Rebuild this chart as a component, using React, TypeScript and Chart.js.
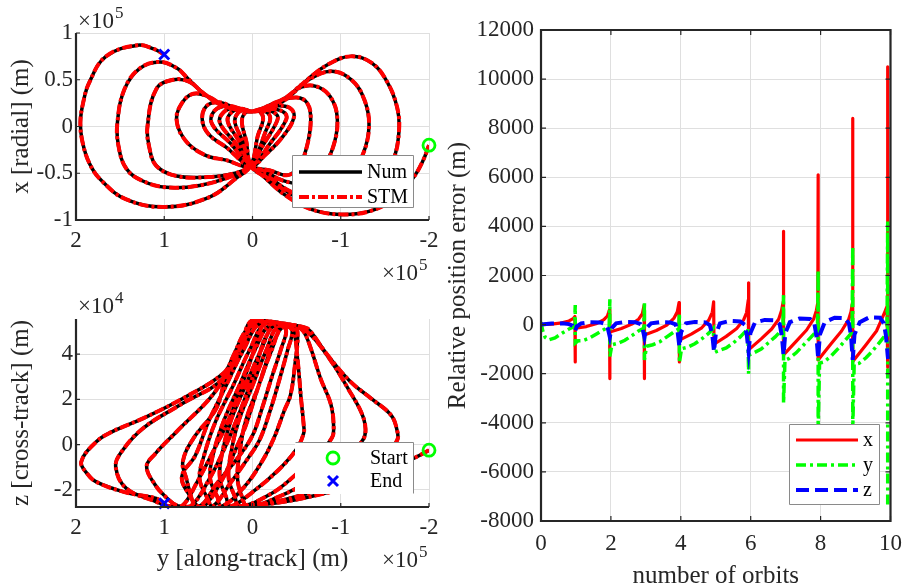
import React, { useEffect, useRef } from "react";
import { Chart, registerables } from "chart.js";

Chart.register(...registerables);

const SERIF = '"Liberation Serif", "Times New Roman", Times, serif';
const INK = "#262626";
const GRID = "#dfdfdf";
const RED = "#ff0000";
const GREEN = "#00ff00";
const BLUE = "#0000ff";

type P = [number, number];

// ---------- In-plane motion: along-track y (x1e5 m) vs radial x (x1e5 m) ----------
const ipStart: P[] = [[-2.0, -0.2], [-1.93, -0.37], [-1.82, -0.55], [-1.62, -0.76], [-1.35, -0.9], [-1.0, -0.94], [-0.65, -0.88], [-0.35, -0.72], [-0.12, -0.53]];
const ipLeft10: P[] = [[0.02, -0.42], [0.07, -0.16], [0.12, 0.05], [0.08, 0.15]];
const ipRight1: P[] = [[0.0, 0.16], [-0.33, 0.26], [-0.62, 0.5], [-0.85, 0.66], [-1.11, 0.75], [-1.35, 0.68], [-1.53, 0.47], [-1.64, 0.2], [-1.66, -0.05], [-1.6, -0.35], [-1.45, -0.62], [-1.22, -0.8], [-0.96, -0.85], [-0.6, -0.8], [-0.3, -0.64], [-0.1, -0.5]];
const ipLeft9: P[] = [[0.02, -0.42], [0.11, -0.16], [0.2, 0.05], [0.16, 0.15], [0.08, 0.18]];
const ipRight2: P[] = [[0.0, 0.16], [-0.36, 0.3], [-0.62, 0.49], [-0.89, 0.59], [-1.12, 0.5], [-1.27, 0.28], [-1.32, 0.0], [-1.25, -0.3], [-1.08, -0.57], [-0.8, -0.74], [-0.47, -0.71], [-0.2, -0.55]];
const ipLeft8: P[] = [[0.02, -0.42], [0.15, -0.16], [0.28, 0.05], [0.24, 0.15], [0.12, 0.19]];
const ipRight3: P[] = [[0.0, 0.16], [-0.36, 0.3], [-0.55, 0.42], [-0.72, 0.43], [-0.88, 0.32], [-0.96, 0.1], [-0.92, -0.2], [-0.78, -0.46], [-0.6, -0.6], [-0.35, -0.58], [-0.12, -0.47]];
const ipLeft7: P[] = [[0.02, -0.42], [0.2, -0.17], [0.37, 0.04], [0.33, 0.15], [0.2, 0.2]];
const ipRight4: P[] = [[0.0, 0.16], [-0.3, 0.27], [-0.5, 0.31], [-0.62, 0.25], [-0.66, 0.08], [-0.62, -0.2], [-0.53, -0.42], [-0.4, -0.52], [-0.2, -0.47]];
const ipLeft6: P[] = [[0.02, -0.42], [0.25, -0.18], [0.46, 0.03], [0.43, 0.17], [0.28, 0.22], [0.1, 0.18]];
const ipRight5: P[] = [[0.0, 0.16], [-0.25, 0.22], [-0.42, 0.2], [-0.47, 0.1], [-0.35, -0.1], [-0.15, -0.3]];
const ipLeft5: P[] = [[0.02, -0.42], [0.3, -0.22], [0.5, -0.08], [0.57, 0.08], [0.52, 0.22], [0.38, 0.26], [0.2, 0.2]];
const ipRight6: P[] = [[0.0, 0.16], [-0.2, 0.19], [-0.36, 0.15], [-0.38, 0.07], [-0.2, -0.18]];
const ipLeft4: P[] = [[0.02, -0.42], [0.3, -0.36], [0.55, -0.3], [0.76, -0.15], [0.86, 0.07], [0.8, 0.25], [0.67, 0.35], [0.5, 0.32], [0.3, 0.21]];
const ipRight7: P[] = [[0.0, 0.16], [-0.15, 0.18], [-0.28, 0.12], [-0.27, 0.04], [-0.12, -0.2]];
const ipLeft3: P[] = [[0.02, -0.42], [0.2, -0.5], [0.5, -0.54], [0.86, -0.53], [1.09, -0.42], [1.17, -0.22], [1.19, 0.0], [1.09, 0.4], [0.9, 0.5], [0.72, 0.48], [0.56, 0.36], [0.33, 0.22]];
const ipRight8: P[] = [[0.0, 0.16], [-0.12, 0.17], [-0.2, 0.1], [-0.15, -0.05]];
const ipLeft2: P[] = [[0.02, -0.42], [0.2, -0.52], [0.6, -0.63], [0.98, -0.65], [1.25, -0.58], [1.43, -0.45], [1.52, -0.2], [1.53, 0.05], [1.45, 0.4], [1.28, 0.62], [1.05, 0.69], [0.85, 0.62], [0.75, 0.53], [0.56, 0.36], [0.33, 0.22]];
const ipRight9: P[] = [[0.0, 0.16], [-0.08, 0.16], [-0.12, 0.08], [-0.06, -0.1]];
const ipLeft1: P[] = [[0.02, -0.42], [0.18, -0.55], [0.5, -0.76], [0.98, -0.86], [1.43, -0.78], [1.72, -0.57], [1.85, -0.39], [1.93, -0.15], [1.95, 0.05], [1.92, 0.25], [1.85, 0.47], [1.66, 0.75], [1.3, 0.87], [1.12, 0.83], [1.0, 0.77]];

const inPlanePath: P[] = [
  ipStart, ipLeft10, ipRight1, ipLeft9, ipRight2, ipLeft8, ipRight3, ipLeft7, ipRight4, ipLeft6,
  ipRight5, ipLeft5, ipRight6, ipLeft4, ipRight7, ipLeft3, ipRight8, ipLeft2, ipRight9, ipLeft1,
].flat();

// ---------- Cross-track motion: along-track y (x1e5 m) vs cross-track z (x1e4 m) ----------
const ctStart: P[] = [[-2.0, -0.25], [-1.83, -0.6], [-1.5, -1.2], [-1.1, -1.85], [-0.6, -2.35], [-0.2, -2.62]];
const ctRight1: P[] = [[0.1, -2.72], [-0.35, -2.45], [-0.85, -1.85], [-1.25, -1.1], [-1.52, -0.4], [-1.64, 0.2], [-1.64, 0.6], [-1.57, 1.3], [-1.34, 2.05], [-1.11, 2.78], [-0.85, 3.96], [-0.66, 4.99]];
const ctLeft10: P[] = [[-0.6, 5.17], [-0.35, 5.22], [-0.22, 4.2], [-0.07, 2.6], [0.08, 1.0], [0.15, -0.5], [0.17, -1.5], [0.12, -2.3]];
const ctRight2: P[] = [[0.05, -2.75], [-0.3, -2.3], [-0.7, -1.5], [-1.05, -0.6], [-1.25, 0.2], [-1.28, 0.72], [-1.23, 1.45], [-1.08, 2.49], [-0.92, 3.52], [-0.73, 4.55], [-0.62, 4.99]];
const ctLeft9: P[] = [[-0.55, 5.2], [-0.3, 5.25], [-0.16, 4.2], [0.0, 2.6], [0.16, 1.0], [0.25, -0.5], [0.27, -1.5], [0.2, -2.3]];
const ctRight3: P[] = [[0.15, -2.73], [-0.2, -2.2], [-0.5, -1.3], [-0.75, -0.4], [-0.9, 0.3], [-0.92, 0.72], [-0.89, 1.75], [-0.77, 2.93], [-0.66, 4.26], [-0.58, 4.99]];
const ctLeft8: P[] = [[-0.5, 5.22], [-0.25, 5.28], [-0.1, 4.2], [0.08, 2.6], [0.25, 1.0], [0.35, -0.5], [0.37, -1.5], [0.3, -2.3]];
const ctRight4: P[] = [[0.25, -2.73], [0.0, -2.1], [-0.3, -1.1], [-0.5, -0.2], [-0.58, 0.5], [-0.58, 0.86], [-0.55, 2.04], [-0.51, 3.81], [-0.47, 4.99]];
const ctLeft7: P[] = [[-0.42, 5.25], [-0.2, 5.3], [-0.03, 4.2], [0.15, 2.6], [0.33, 1.0], [0.45, -0.5], [0.48, -1.5], [0.4, -2.3]];
const ctRight5: P[] = [[0.35, -2.73], [0.1, -1.9], [-0.1, -0.8], [-0.24, 0.26], [-0.36, 1.5], [-0.43, 2.18], [-0.48, 3.5], [-0.51, 4.98]];
const ctLeft6: P[] = [[-0.45, 5.2], [-0.15, 5.35], [0.03, 4.2], [0.22, 2.6], [0.42, 1.0], [0.55, -0.5], [0.6, -1.5], [0.52, -2.3]];
const ctRight6: P[] = [[0.45, -2.72], [0.25, -1.7], [0.05, -0.6], [-0.08, 0.2], [-0.2, 1.5], [-0.3, 2.8], [-0.4, 4.2], [-0.45, 5.0]];
const ctLeft5: P[] = [[-0.4, 5.22], [-0.1, 5.4], [0.1, 4.2], [0.3, 2.6], [0.5, 1.0], [0.65, -0.5], [0.8, -1.4], [0.72, -2.2]];
const ctRight7: P[] = [[0.6, -2.72], [0.4, -1.7], [0.15, -0.5], [0.0, 0.4], [-0.1, 1.5], [-0.22, 3.0], [-0.33, 4.3], [-0.38, 5.05]];
const ctLeft4: P[] = [[-0.3, 5.3], [-0.05, 5.45], [0.12, 4.4], [0.3, 3.0], [0.41, 1.6], [0.67, 0.27], [0.79, -0.76], [0.75, -1.5], [0.71, -2.09], [0.65, -2.7]];
const ctRight8: P[] = [[0.55, -2.74], [0.35, -1.6], [0.2, -0.3], [0.08, 0.8], [-0.02, 2.0], [-0.12, 3.2], [-0.22, 4.4], [-0.3, 5.1]];
const ctLeft3: P[] = [[-0.25, 5.35], [0.0, 5.5], [0.12, 4.6], [0.25, 3.5], [0.45, 2.2], [0.86, 0.57], [1.1, -0.4], [1.2, -0.98], [1.1, -1.8], [1.0, -2.25], [0.85, -2.7]];
const ctRight9: P[] = [[0.7, -2.72], [0.5, -1.6], [0.32, -0.2], [0.2, 0.9], [0.08, 2.1], [-0.03, 3.3], [-0.12, 4.5], [-0.2, 5.2]];
const ctLeft2: P[] = [[-0.15, 5.4], [-0.02, 5.5], [0.1, 4.6], [0.33, 2.93], [0.8, 1.8], [1.24, 0.72], [1.48, -0.3], [1.55, -0.98], [1.43, -1.94], [1.09, -2.53], [0.95, -2.72]];
const ctRight10: P[] = [[0.8, -2.72], [0.62, -1.6], [0.42, -0.1], [0.28, 1.0], [0.16, 2.2], [0.05, 3.4], [-0.05, 4.6], [-0.1, 5.35]];
const ctLeft1: P[] = [[-0.03, 5.5], [0.1, 4.9], [0.22, 3.9], [0.33, 3.15], [0.79, 2.04], [1.24, 1.16], [1.6, 0.55], [1.77, 0.12], [1.94, -0.76], [1.87, -1.3], [1.77, -1.65], [1.45, -2.1], [1.09, -2.38], [1.0, -2.6]];

const crossPath: P[] = [
  ctStart, ctRight1, ctLeft10, ctRight2, ctLeft9, ctRight3, ctLeft8, ctRight4, ctLeft7, ctRight5, ctLeft6,
  ctRight6, ctLeft5, ctRight7, ctLeft4, ctRight8, ctLeft3, ctRight9, ctLeft2, ctRight10, ctLeft1,
].flat();

// ---------- Relative position error (m) vs number of orbits ----------
const errX: P[] = [
  [0, 0], [0.3, 20], [0.6, 70], [0.8, 150], [0.92, 240], [0.97, 330],
  [0.98, -1520], [0.98, -150], [1.3, -80], [1.6, 50], [1.8, 200], [1.9, 350], [1.96, 600],
  [1.97, -2200], [1.97, -300], [2.3, -160], [2.6, 20], [2.8, 230], [2.9, 450], [2.95, 780],
  [2.96, -2200], [2.96, -420], [3.3, -240], [3.6, -20], [3.8, 250], [3.9, 520], [3.95, 900],
  [3.96, -1520], [3.96, -630], [4.3, -390], [4.6, -130], [4.8, 180], [4.9, 500], [4.94, 930],
  [4.95, -800], [5.3, -480], [5.6, -160], [5.8, 200], [5.88, 480], [5.93, 1000],
  [5.94, 1700], [5.94, -1030], [6.3, -580], [6.6, -180], [6.8, 220], [6.88, 560], [6.93, 930],
  [6.94, 3800], [6.94, -1230], [7.3, -680], [7.6, -220], [7.8, 220], [7.88, 580], [7.92, 900],
  [7.93, 6100], [7.93, -1440], [8.3, -780], [8.6, -260], [8.8, 200], [8.87, 520], [8.91, 880],
  [8.92, 8400], [8.92, -1500], [9.3, -820], [9.6, -260], [9.75, 220], [9.85, 560], [9.9, 740],
  [9.92, 10500], [9.92, -1740],
];
const errY: P[] = [
  [0, 100], [0.05, -250], [0.12, -520], [0.22, -620], [0.4, -540], [0.6, -350], [0.8, -180], [0.96, -80],
  [0.98, 800], [0.98, -750], [1.06, -660], [1.2, -650], [1.4, -540], [1.6, -370], [1.8, -200], [1.95, -100],
  [1.97, 1030], [1.97, -1300], [2.03, -820], [2.2, -760], [2.4, -640], [2.6, -450], [2.8, -250], [2.94, -150],
  [2.96, 930], [2.96, -1440], [3.02, -880], [3.2, -820], [3.4, -700], [3.6, -500], [3.8, -300], [3.94, -180],
  [3.96, 470], [3.96, -1560], [4.02, -980], [4.2, -920], [4.4, -780], [4.6, -580], [4.8, -350], [4.93, -150],
  [4.95, -1150], [5.05, -1080], [5.3, -950], [5.5, -750], [5.7, -500], [5.85, -280], [5.92, -150],
  [5.94, -2000], [5.94, -1250], [6.05, -1180], [6.3, -1000], [6.5, -750], [6.7, -500], [6.85, -280], [6.92, -180],
  [6.94, 1200], [6.94, -3200], [6.98, -1450], [7.1, -1380], [7.3, -1150], [7.5, -850], [7.7, -550], [7.85, -320], [7.91, -220],
  [7.93, 2200], [7.93, -4300], [7.97, -1570], [8.1, -1520], [8.3, -1280], [8.5, -980], [8.7, -650], [8.85, -400], [8.9, -280],
  [8.92, 3200], [8.92, -4300], [8.96, -1620], [9.1, -1580], [9.3, -1350], [9.5, -1050], [9.7, -700], [9.85, -430], [9.9, -330],
  [9.92, 4200], [9.92, -7350],
];
const errZ: P[] = [
  [0, 0], [0.3, 40], [0.6, 50], [0.8, 20], [0.9, -40], [0.96, -200], [0.98, -250], [1.02, -80],
  [1.15, 50], [1.4, 100], [1.7, 90], [1.85, 20], [1.92, -200], [1.97, -510], [2.02, -150],
  [2.15, 50], [2.4, 110], [2.7, 100], [2.85, 20], [2.91, -200], [2.96, -520], [3.01, -150],
  [3.15, 50], [3.4, 100], [3.7, 90], [3.85, 10], [3.91, -300], [3.96, -900], [4.01, -300],
  [4.15, 50], [4.4, 110], [4.7, 90], [4.83, -20], [4.9, -400], [4.95, -1100], [5.0, -400],
  [5.12, 50], [5.4, 150], [5.7, 130], [5.83, 0], [5.89, -450], [5.94, -1100], [5.99, -350],
  [6.12, 80], [6.4, 190], [6.7, 170], [6.83, 20], [6.89, -450], [6.94, -1240], [6.99, -350],
  [7.12, 100], [7.4, 250], [7.7, 230], [7.82, 50], [7.88, -450], [7.93, -1370], [7.98, -400],
  [8.12, 100], [8.4, 280], [8.7, 260], [8.81, 50], [8.87, -450], [8.92, -1440], [8.97, -400],
  [9.12, 100], [9.4, 300], [9.7, 280], [9.81, 50], [9.87, -450], [9.93, -1400],
];

// ---------- Tick values ----------
const alongTicks = [2, 1, 0, -1, -2];
const radialTicks = [-1, -0.5, 0, 0.5, 1];
const crossTicks = [-2, 0, 2, 4];
const orbitTicks = [0, 2, 4, 6, 8, 10];
const errTicks = [-8000, -6000, -4000, -2000, 0, 2000, 4000, 6000, 8000, 10000, 12000];

const pts = (a: P[]) => a.map(([x, y]) => ({ x, y }));

type LegendRow = { label: string; kind: "line" | "circle" | "cross"; color: string; width: number; dash?: number[] };
type LegendCfg = {
  x: number; y: number; w: number; h: number;
  edges: string;
  rowY: number[];
  sampleX: [number, number];
  textX: number;
  rows: LegendRow[];
};
type FrameCfg = {
  box: boolean;
  tick: number;
  exps: { x: number; y: number; exp: string }[];
  legend: LegendCfg;
};

function makeFrame(cfg: FrameCfg) {
  return {
    id: "frame",
    afterDatasetsDraw(chart: any) {
      const { ctx, chartArea: a } = chart;
      const sx = chart.scales.x;
      const sy = chart.scales.y;
      ctx.save();
      ctx.strokeStyle = INK;
      ctx.lineWidth = 1.2;
      ctx.beginPath();
      sx.ticks.forEach((t: any) => {
        const p = sx.getPixelForValue(t.value);
        ctx.moveTo(p, a.bottom);
        ctx.lineTo(p, a.bottom - cfg.tick);
        if (cfg.box) {
          ctx.moveTo(p, a.top);
          ctx.lineTo(p, a.top + cfg.tick);
        }
      });
      sy.ticks.forEach((t: any) => {
        const p = sy.getPixelForValue(t.value);
        ctx.moveTo(a.left, p);
        ctx.lineTo(a.left + cfg.tick, p);
        if (cfg.box) {
          ctx.moveTo(a.right, p);
          ctx.lineTo(a.right - cfg.tick, p);
        }
      });
      ctx.stroke();
      ctx.lineWidth = 2.2;
      ctx.beginPath();
      if (cfg.box) {
        ctx.rect(a.left, a.top, a.right - a.left, a.bottom - a.top);
      } else {
        ctx.moveTo(a.left, a.top);
        ctx.lineTo(a.left, a.bottom);
        ctx.lineTo(a.right, a.bottom);
      }
      ctx.stroke();
      ctx.restore();
    },
    afterDraw(chart: any) {
      const ctx: CanvasRenderingContext2D = chart.ctx;
      ctx.save();
      // axis multipliers
      ctx.fillStyle = INK;
      ctx.textAlign = "left";
      ctx.textBaseline = "alphabetic";
      cfg.exps.forEach((e) => {
        ctx.font = `23px ${SERIF}`;
        ctx.fillText("\u00d710", e.x, e.y);
        const w = ctx.measureText("\u00d710").width;
        ctx.font = `17px ${SERIF}`;
        ctx.fillText(e.exp, e.x + w + 1, e.y - 10);
      });
      // legend
      const L = cfg.legend;
      ctx.fillStyle = "#ffffff";
      ctx.fillRect(L.x, L.y, L.w, L.h);
      ctx.strokeStyle = "#8a8a8a";
      ctx.lineWidth = 1;
      ctx.beginPath();
      const x0 = L.x + 0.5, y0 = L.y + 0.5, x1 = L.x + L.w - 0.5, y1 = L.y + L.h - 0.5;
      if (L.edges.includes("t")) { ctx.moveTo(x0, y0); ctx.lineTo(x1, y0); }
      if (L.edges.includes("r")) { ctx.moveTo(x1, y0); ctx.lineTo(x1, y1); }
      if (L.edges.includes("b")) { ctx.moveTo(x0, y1); ctx.lineTo(x1, y1); }
      if (L.edges.includes("l")) { ctx.moveTo(x0, y0); ctx.lineTo(x0, y1); }
      ctx.stroke();
      L.rows.forEach((r, i) => {
        const y = L.rowY[i];
        const [sx0, sx1] = L.sampleX;
        const cx = (sx0 + sx1) / 2;
        ctx.save();
        ctx.strokeStyle = r.color;
        ctx.lineWidth = r.width;
        ctx.setLineDash(r.dash ?? []);
        ctx.beginPath();
        if (r.kind === "line") {
          ctx.moveTo(sx0, y);
          ctx.lineTo(sx1, y);
        } else if (r.kind === "circle") {
          ctx.arc(cx, y, 6, 0, Math.PI * 2);
        } else {
          ctx.moveTo(cx - 5, y - 5);
          ctx.lineTo(cx + 5, y + 5);
          ctx.moveTo(cx + 5, y - 5);
          ctx.lineTo(cx - 5, y + 5);
        }
        ctx.stroke();
        ctx.restore();
        ctx.fillStyle = "#000000";
        ctx.font = `20px ${SERIF}`;
        ctx.textBaseline = "middle";
        ctx.textAlign = "left";
        ctx.fillText(r.label, L.textX, y + 1);
      });
      ctx.restore();
    },
  };
}

type AxisOpts = {
  min: number;
  max: number;
  reverse?: boolean;
  ticks: number[];
  pad: number;
  fit: (s: any) => void;
  title?: { text: string; padding: any };
};

function axis(o: AxisOpts) {
  return {
    type: "linear",
    min: o.min,
    max: o.max,
    reverse: !!o.reverse,
    afterBuildTicks: (s: any) => {
      s.ticks = o.ticks.map((v) => ({ value: v }));
    },
    afterFit: o.fit,
    grid: { color: GRID, lineWidth: 1, drawTicks: false },
    border: { display: false },
    ticks: {
      font: { family: SERIF, size: 23 },
      color: INK,
      padding: o.pad,
      autoSkip: false,
      maxRotation: 0,
      minRotation: 0,
      callback: (v: number) => String(v),
    },
    title: o.title
      ? { display: true, text: o.title.text, color: INK, font: { family: SERIF, size: 25, lineHeight: 1 }, padding: o.title.padding }
      : { display: false },
  };
}

const baseOptions = {
  responsive: false,
  animation: false,
  devicePixelRatio: 1,
  events: [] as any[],
  plugins: { legend: { display: false }, tooltip: { enabled: false } },
};

const STM_DASH = [10, 3, 3, 3];

function trajectorySets(path: P[]) {
  const first = path[0];
  const last = path[path.length - 1];
  return [
    { label: "STM", data: pts(path), showLine: true, borderColor: RED, borderWidth: 4, borderDash: STM_DASH, pointRadius: 0, tension: 0.4, fill: false, order: 1 },
    { label: "Num", data: pts(path), showLine: true, borderColor: "#000000", borderWidth: 3.5, pointRadius: 0, tension: 0.4, fill: false, order: 2 },
    { label: "Start", data: pts([first]), showLine: false, pointStyle: "circle", pointRadius: 6, pointBorderWidth: 2.8, pointBorderColor: GREEN, pointBackgroundColor: "rgba(0,0,0,0)", clip: false, order: 0 },
    { label: "End", data: pts([last]), showLine: false, pointStyle: "crossRot", pointRadius: 7, pointBorderWidth: 3, pointBorderColor: BLUE, pointBackgroundColor: BLUE, clip: false, order: 0 },
  ];
}

function inPlaneConfig(): any {
  return {
    type: "scatter",
    data: { datasets: trajectorySets(inPlanePath) },
    options: {
      ...baseOptions,
      layout: { padding: { left: 0, top: 33, right: 482, bottom: 326 } },
      scales: {
        x: axis({ min: -2, max: 2, reverse: true, ticks: alongTicks, pad: 7, fit: (s) => { s.height = 40; } }),
        y: axis({ min: -1, max: 1, ticks: radialTicks, pad: 3, fit: (s) => { s.width = 76; }, title: { text: "x [radial] (m)", padding: { top: 9, bottom: 0 } } }),
      },
    },
    plugins: [
      makeFrame({
        box: false,
        tick: 4,
        exps: [{ x: 78, y: 28, exp: "5" }, { x: 382, y: 280, exp: "5" }],
        legend: {
          x: 292, y: 155, w: 122, h: 53, edges: "trbl", rowY: [172, 197], sampleX: [299, 362], textX: 367,
          rows: [
            { label: "Num", kind: "line", color: "#000000", width: 3.5 },
            { label: "STM", kind: "line", color: RED, width: 4, dash: STM_DASH },
          ],
        },
      }),
    ],
  };
}

function crossConfig(): any {
  return {
    type: "scatter",
    data: { datasets: trajectorySets(crossPath) },
    options: {
      ...baseOptions,
      layout: { padding: { left: 0, top: 319, right: 482, bottom: 0 } },
      scales: {
        x: axis({ min: -2, max: 2, reverse: true, ticks: alongTicks, pad: 7, fit: (s) => { s.height = 79; }, title: { text: "y [along-track] (m)", padding: { top: 0, bottom: 14 } } }),
        y: axis({ min: -2.76, max: 5.55, ticks: crossTicks, pad: 3, fit: (s) => { s.width = 76; }, title: { text: "z [cross-track] (m)", padding: { top: 9, bottom: 0 } } }),
      },
    },
    plugins: [
      makeFrame({
        box: false,
        tick: 4,
        exps: [{ x: 78, y: 313, exp: "4" }, { x: 382, y: 567, exp: "5" }],
        legend: {
          x: 295, y: 442, w: 119, h: 52, edges: "tr", rowY: [458, 481], sampleX: [320, 346], textX: 370,
          rows: [
            { label: "Start", kind: "circle", color: GREEN, width: 2.8 },
            { label: "End", kind: "cross", color: BLUE, width: 3 },
          ],
        },
      }),
    ],
  };
}

const Y_DASH = [10, 4, 3, 4];
const Z_DASH = [13, 6];

function errorConfig(): any {
  return {
    type: "scatter",
    data: {
      datasets: [
        { label: "z", data: pts(errZ), showLine: true, borderColor: BLUE, borderWidth: 4, borderDash: Z_DASH, pointRadius: 0, tension: 0, fill: false, order: 1 },
        { label: "y", data: pts(errY), showLine: true, borderColor: GREEN, borderWidth: 3.5, borderDash: Y_DASH, pointRadius: 0, tension: 0, fill: false, order: 2 },
        { label: "x", data: pts(errX), showLine: true, borderColor: RED, borderWidth: 3.2, borderCapStyle: "round", borderJoinStyle: "round", pointRadius: 0, tension: 0, fill: false, order: 3 },
      ],
    },
    options: {
      ...baseOptions,
      layout: { padding: { left: 440, top: 30, right: 17, bottom: 0 } },
      scales: {
        x: axis({ min: 0, max: 10, ticks: orbitTicks, pad: 9, fit: (s) => { s.height = 65; }, title: { text: "number of orbits", padding: { top: 0, bottom: -3 } } }),
        y: axis({ min: -8000, max: 12000, ticks: errTicks, pad: 7, fit: (s) => { s.width = 101; }, title: { text: "Relative position error (m)", padding: { top: 6, bottom: 0 } } }),
      },
    },
    plugins: [
      makeFrame({
        box: true,
        tick: 5,
        exps: [],
        legend: {
          x: 789, y: 424, w: 91, h: 81, edges: "trbl", rowY: [440, 465, 490], sampleX: [796, 858], textX: 863,
          rows: [
            { label: "x", kind: "line", color: RED, width: 3.2 },
            { label: "y", kind: "line", color: GREEN, width: 3.5, dash: Y_DASH },
            { label: "z", kind: "line", color: BLUE, width: 4, dash: Z_DASH },
          ],
        },
      }),
    ],
  };
}

const canvasStyle: React.CSSProperties = { position: "absolute", left: 0, top: 0 };

export default function App() {
  const inPlaneRef = useRef<HTMLCanvasElement>(null);
  const crossRef = useRef<HTMLCanvasElement>(null);
  const errorRef = useRef<HTMLCanvasElement>(null);

  useEffect(() => {
    const charts = [
      new Chart(inPlaneRef.current!, inPlaneConfig()),
      new Chart(crossRef.current!, crossConfig()),
      new Chart(errorRef.current!, errorConfig()),
    ];
    return () => charts.forEach((c) => c.destroy());
  }, []);

  return (
    <div style={{ position: "absolute", left: 0, top: 0, width: 911, height: 586, background: "#ffffff", overflow: "hidden" }}>
      <canvas ref={inPlaneRef} width={911} height={586} style={canvasStyle} />
      <canvas ref={crossRef} width={911} height={586} style={canvasStyle} />
      <canvas ref={errorRef} width={911} height={586} style={canvasStyle} />
    </div>
  );
}
